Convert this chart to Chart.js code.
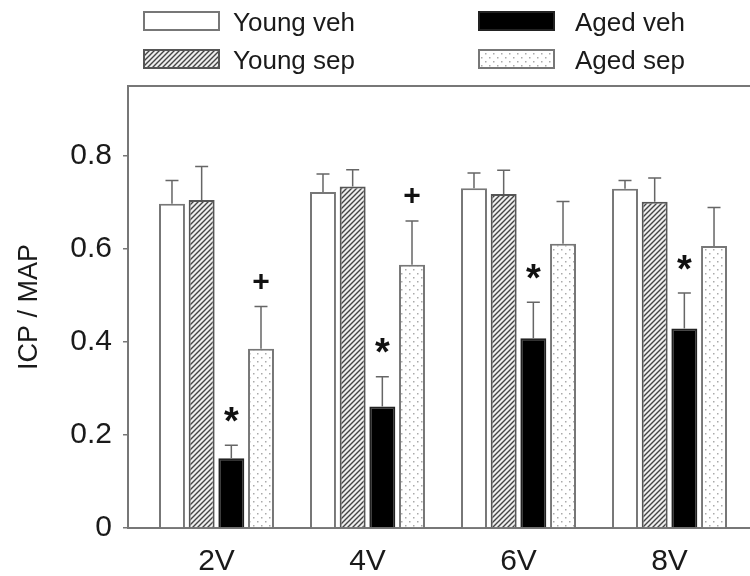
<!DOCTYPE html>
<html lang="en">
<head>
  <meta charset="UTF-8" />
  <title>ICP / MAP</title>
  <script src="https://cdn.jsdelivr.net/npm/chart.js"></script>
  <style>
    body { margin: 0; background: #fff; }
    #wrap { width: 750px; height: 576px; }
  </style>
</head>
<body>
  <div id="wrap"><canvas id="icpChart" width="750" height="576"></canvas></div>

  <script>
    const labels = ["2V", "4V", "6V", "8V"];
    const yTicks = [0, 0.2, 0.4, 0.6, 0.8];

    const youngVeh = [0.697, 0.722, 0.730, 0.729];
    const youngVehErr = [0.050, 0.039, 0.033, 0.018];
    const youngSep = [0.705, 0.734, 0.718, 0.701];
    const youngSepErr = [0.072, 0.036, 0.051, 0.051];
    const agedVeh = [0.150, 0.261, 0.408, 0.429];
    const agedVehErr = [0.028, 0.064, 0.077, 0.076];
    const agedSep = [0.385, 0.566, 0.611, 0.606];
    const agedSepErr = [0.091, 0.094, 0.091, 0.083];

    // significance marks drawn above the error bars
    const agedVehMarks = ["*", "*", "*", "*"];
    const agedSepMarks = ["+", "+", "", ""];

    const FONT = "'Liberation Sans', Arial, sans-serif";
    const canvas = document.getElementById("icpChart");
    const ctx = canvas.getContext("2d");

    function hatchPattern() {
      const c = document.createElement("canvas");
      c.width = 5; c.height = 5;
      const g = c.getContext("2d");
      g.fillStyle = "#eee";
      g.fillRect(0, 0, 5, 5);
      g.strokeStyle = "#444";
      g.lineWidth = 1.4;
      g.beginPath();
      g.moveTo(-1, 6); g.lineTo(6, -1);
      g.moveTo(-1, 1); g.lineTo(1, -1);
      g.moveTo(4, 6); g.lineTo(6, 4);
      g.stroke();
      return ctx.createPattern(c, "repeat");
    }

    function dotPattern() {
      const c = document.createElement("canvas");
      c.width = 8; c.height = 8;
      const g = c.getContext("2d");
      g.fillStyle = "#fff";
      g.fillRect(0, 0, 8, 8);
      g.fillStyle = "#aaa";
      g.fillRect(1, 1, 1.5, 1.5);
      g.fillRect(5, 5, 1.5, 1.5);
      return ctx.createPattern(c, "repeat");
    }

    const toPoints = arr => arr.map((v, i) => ({ x: i, y: v }));

    // error bars (upper only) and the * / + marks
    const errorBars = {
      id: "errorBars",
      afterDatasetsDraw(chart) {
        const c = chart.ctx;
        const y = chart.scales.y;
        chart.data.datasets.forEach((ds, d) => {
          const meta = chart.getDatasetMeta(d);
          meta.data.forEach((bar, i) => {
            const top = y.getPixelForValue(ds.data[i].y + ds.errors[i]);
            c.save();
            c.strokeStyle = "#666";
            c.lineWidth = 1.5;
            c.beginPath();
            c.moveTo(bar.x, bar.y);
            c.lineTo(bar.x, top);
            c.moveTo(bar.x - 6.5, top);
            c.lineTo(bar.x + 6.5, top);
            c.stroke();
            const mark = ds.marks ? ds.marks[i] : "";
            if (mark) {
              c.fillStyle = "#111";
              c.font = (mark === "*" ? "bold 38px " : "bold 30px ") + FONT;
              c.textAlign = "center";
              c.textBaseline = "alphabetic";
              const m = c.measureText(mark);
              const cy = top - (mark === "*" ? 31 : 26);
              c.fillText(mark, bar.x, cy + (m.actualBoundingBoxAscent - m.actualBoundingBoxDescent) / 2);
            }
            c.restore();
          });
        });
      }
    };

    const legendBoxX = [143, 478];
    const legendTextX = [233, 575];
    const legendBoxY = [11, 49];
    const legendTextY = [31, 69];

    const boxLegend = {
      id: "boxLegend",
      afterDraw(chart) {
        const c = chart.ctx;
        chart.data.datasets.forEach((ds, i) => {
          const col = Math.floor(i / 2), row = i % 2;
          const bx = legendBoxX[col], by = legendBoxY[row];
          c.save();
          c.fillStyle = ds.backgroundColor;
          c.fillRect(bx, by, 77, 20);
          c.strokeStyle = ds.borderColor;
          c.lineWidth = 2;
          c.strokeRect(bx + 1, by + 1, 75, 18);
          c.fillStyle = "#1a1a1a";
          c.font = "26px " + FONT;
          c.textBaseline = "alphabetic";
          c.fillText(ds.label, legendTextX[col], legendTextY[row]);
          c.restore();
        });
      }
    };

    Chart.defaults.font.family = FONT;
    Chart.defaults.color = "#1a1a1a";

    new Chart(canvas, {
      type: "bar",
      data: {
        datasets: [
          { label: "Young veh", data: toPoints(youngVeh), errors: youngVehErr,
            backgroundColor: "#fff", borderColor: "#777" },
          { label: "Young sep", data: toPoints(youngSep), errors: youngSepErr,
            backgroundColor: hatchPattern(), borderColor: "#555" },
          { label: "Aged veh", data: toPoints(agedVeh), errors: agedVehErr, marks: agedVehMarks,
            backgroundColor: "#000", borderColor: "#222" },
          { label: "Aged sep", data: toPoints(agedSep), errors: agedSepErr, marks: agedSepMarks,
            backgroundColor: dotPattern(), borderColor: "#777" }
        ]
      },
      options: {
        responsive: false,
        animation: false,
        layout: { padding: { top: 86, left: 0, right: 0, bottom: 0 } },
        datasets: {
          bar: { borderWidth: 2, categoryPercentage: 0.786, barPercentage: 0.875 }
        },
        plugins: {
          legend: { display: false },
          tooltip: { enabled: false }
        },
        scales: {
          x: {
            type: "linear",
            position: "bottom",
            offset: false,
            min: -0.586,
            max: 3.533,
            afterBuildTicks: s => { s.ticks = labels.map((_, i) => ({ value: i })); },
            afterFit: s => { s.height = 48; },
            ticks: {
              callback: v => labels[v],
              font: { size: 30 },
              padding: 8,
              maxRotation: 0,
              autoSkip: false
            },
            grid: { display: false, offset: false },
            border: { display: true, color: "#777", width: 2 }
          },
          xTop: {
            type: "linear",
            position: "top",
            offset: false,
            afterFit: s => { s.height = 0; },
            ticks: { display: false },
            grid: { display: false },
            border: { display: true, color: "#777", width: 2 }
          },
          y: {
            min: 0,
            max: 0.95,
            afterBuildTicks: s => { s.ticks = yTicks.map(v => ({ value: v })); },
            afterFit: s => { s.width = 128; },
            ticks: {
              callback: v => (v === 0 ? "0" : v.toFixed(1)),
              font: { size: 30 },
              padding: 11
            },
            grid: { drawOnChartArea: false, drawTicks: true, tickLength: 5, color: "#777", lineWidth: 1.5 },
            border: { display: true, color: "#777", width: 2 },
            title: {
              display: true,
              text: "ICP / MAP",
              font: { size: 27 },
              padding: { top: 13, bottom: 0 }
            }
          }
        }
      },
      plugins: [errorBars, boxLegend]
    });
  </script>
</body>
</html>
